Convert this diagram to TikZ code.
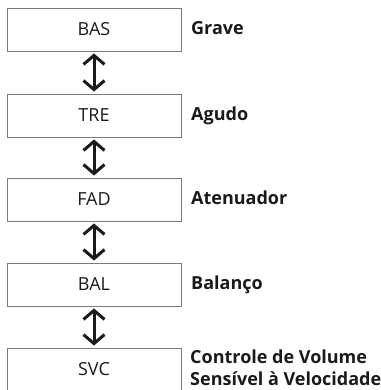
\documentclass[tikz,border=0pt]{standalone}
\usepackage{fontspec}
\setsansfont{Open Sans}
\usetikzlibrary{arrows.meta, positioning}
\definecolor{cframe}{HTML}{7A7A7A}
\definecolor{ctext}{HTML}{1A1A1A}
\tikzset{
  every picture/.style={font=\sffamily\fontsize{18}{22}\selectfont, text=ctext},
  menu/.style={draw=cframe, line width=0.9pt, minimum width=174pt, minimum height=43pt, inner sep=0pt},
  lbl/.style={font=\sffamily\bfseries\fontsize{18}{22}\selectfont, anchor=base west, inner sep=0pt, align=left},
  swap/.style={{Straight Barb[length=9pt, width=21pt]}-{Straight Barb[length=9pt, width=21pt]}, draw=ctext, line width=3pt, shorten <=2pt, shorten >=2pt},
}

\begin{document}
\begin{tikzpicture}[x=1pt, y=-1pt]
  \useasboundingbox (0,0) rectangle (380,390);

  % menu items
  \node[menu] (bas) at (94,29.5)  {BAS};
  \node[menu] (tre) at (94,115.5) {TRE};
  \node[menu] (fad) at (94,199.5) {FAD};
  \node[menu] (bal) at (94,284.5) {BAL};
  \node[menu] (svc) at (94,369.5) {SVC};

  \foreach \a/\b in {bas/tre, tre/fad, fad/bal, bal/svc}
    \draw[swap] (\a.south) -- (\b.north);

  % meaning
  \node[lbl] (grave) at (191,34.5)  {Grave};
  \node[lbl] (agudo) at (191,120.5) {Agudo};
  \node[lbl] (aten)  at (191,204.5) {Atenuador};
  \node[lbl] (balan) at (191,289.5) {Balanço};
  \node[lbl, anchor=west] (sens) at (190,368) {Controle de Volume\\Sensível à Velocidade};
\end{tikzpicture}
\end{document}
